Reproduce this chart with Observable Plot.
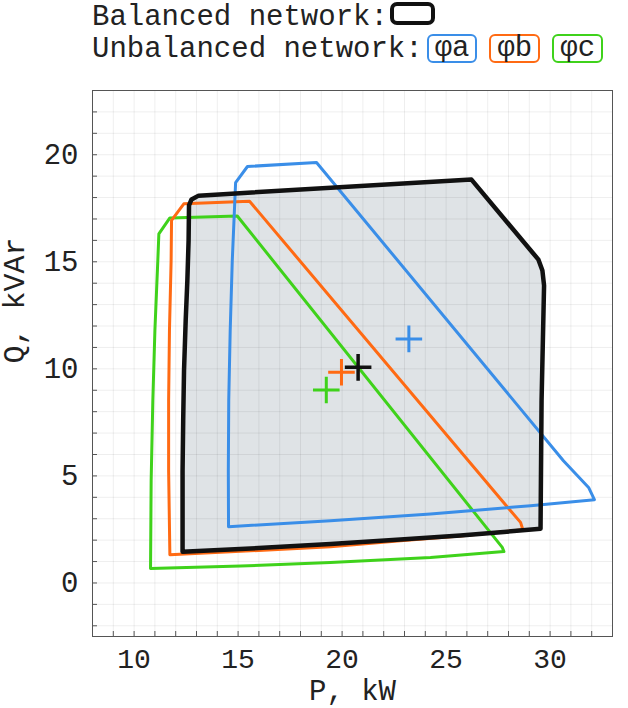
<!DOCTYPE html>
<html><head><meta charset="utf-8">
<script src="https://cdn.jsdelivr.net/npm/d3@7"></script>
<script src="https://cdn.jsdelivr.net/npm/@observablehq/plot@0.6"></script>
<style>
body{margin:0;background:#fff;font-family:"Liberation Mono","DejaVu Sans Mono",monospace;}
#legend{position:relative;width:628px;height:66px;color:#222;font-size:29px;}
.row{position:absolute;left:92px;display:flex;align-items:flex-start;white-space:pre;}
.row .t{line-height:29px;}
.sw{box-sizing:border-box;margin-top:-1px;}
</style></head><body>
<div id="legend"></div>
<div id="chart"></div>
<script>
// ---- data ----
const legendBalanced = "Balanced network:";
const legendUnbalanced = "Unbalanced network:";
const seriesNames = ["φa", "φb", "φc"];
const seriesColors = ["#3a8ee8", "#ff6a13", "#3fd21b"];
const balancedColor = "#111111";
const balancedFill = "#dfe3e6";

const xTicks = [10, 15, 20, 25, 30];
const yTicks = [0, 5, 10, 15, 20];
const xLabel = "P, kW";
const yLabel = "Q, kVAr";

// balanced network region (P, Q)
const balancedP = [12.33, 12.33, 12.36, 12.40, 12.48, 12.56, 12.62, 12.64, 12.76, 13.10, 26.22, 29.44, 29.63, 29.71, 29.59, 29.54, 27.62, 25.69, 22.81, 19.44, 15.60, 12.33];
const balancedQ = [1.46, 5.24, 7.57, 9.91, 12.25, 14.12, 15.99, 17.63, 17.91, 18.09, 18.84, 15.10, 14.59, 13.89, 8.51, 2.53, 2.37, 2.22, 2.03, 1.82, 1.61, 1.46];

// unbalanced phase a
const phaseAP = [14.54, 14.53, 14.55, 14.62, 14.72, 14.88, 15.45, 18.77, 30.64, 31.85, 32.13, 29.06, 24.25, 19.44, 14.54];
const phaseAQ = [2.63, 5.24, 8.51, 11.79, 15.06, 18.70, 19.45, 19.64, 5.71, 4.46, 3.89, 3.61, 3.22, 2.91, 2.63];
// unbalanced phase b
const phaseBP = [11.72, 11.66, 11.66, 11.70, 11.78, 11.80, 12.39, 15.55, 28.10, 28.58, 28.69, 25.69, 22.81, 19.44, 15.60, 11.72];
const phaseBQ = [1.32, 5.24, 8.51, 11.79, 15.06, 16.93, 17.71, 17.83, 3.37, 2.83, 2.49, 2.19, 1.97, 1.69, 1.50, 1.32];
// unbalanced phase c
const phaseCP = [10.79, 10.82, 10.90, 11.00, 11.14, 11.19, 11.72, 14.96, 27.70, 27.78, 24.25, 19.44, 15.12, 10.79];
const phaseCQ = [0.68, 4.78, 8.51, 11.79, 15.06, 16.30, 17.05, 17.14, 1.66, 1.47, 1.19, 0.96, 0.79, 0.68];

// operating points (crosses)
const centerNames = ["balanced", "φa", "φb", "φc"];
const centerP = [20.77, 23.21, 19.97, 19.24];
const centerQ = [10.07, 11.40, 9.84, 9.01];

// ---- legend ----
const legend = document.getElementById("legend");
function row(top, label) {
  const r = document.createElement("div");
  r.className = "row"; r.style.top = top + "px";
  const t = document.createElement("span"); t.className = "t"; t.textContent = label;
  r.appendChild(t); legend.appendChild(r); return r;
}
const r1 = row(3, legendBalanced);
const bsw = document.createElement("span");
bsw.className = "sw";
Object.assign(bsw.style, {width: "45px", height: "23px", border: `4px solid ${balancedColor}`, borderRadius: "7px", marginLeft: "2px", display: "inline-block"});
r1.appendChild(bsw);
const r2 = row(35, legendUnbalanced);
seriesNames.forEach((n, i) => {
  const s = document.createElement("span");
  s.className = "sw"; s.textContent = n;
  Object.assign(s.style, {height: "29px", border: `2px solid ${seriesColors[i]}`, borderRadius: "6px", padding: "0 6px", lineHeight: "25px", marginLeft: i === 0 ? "4px" : "12px", display: "inline-block"});
  r2.appendChild(s);
});

// ---- chart ----
const toRows = (P, Q) => P.map((p, i) => ({p, q: Q[i]}));
const balanced = toRows(balancedP, balancedQ);
const phases = [toRows(phaseAP, phaseAQ), toRows(phaseBP, phaseBQ), toRows(phaseCP, phaseCQ)];
const centers = centerNames.map((n, i) => ({n, p: centerP[i], q: centerQ[i], c: i === 0 ? balancedColor : seriesColors[i - 1]}));

const W = 628, H = 642;
const mT = 24, mB = 72, mL = 92, mR = 16;
const xDom = [8, 33], yDom = [-2.5, 23];
const xGrid = d3.range(Math.ceil(xDom[0]), Math.floor(xDom[1]) + 1);
const yGrid = d3.range(Math.ceil(yDom[0]), Math.floor(yDom[1]) + 1);
const plotW = W - mL - mR, plotH = H - mT - mB;

const chart = Plot.plot({
  width: W, height: H,
  marginTop: mT, marginBottom: mB, marginLeft: mL, marginRight: mR,
  x: {domain: xDom, label: null},
  y: {domain: yDom, label: null},
  style: {fontFamily: "'Liberation Mono', monospace", fontSize: "29px", color: "#222", background: "white"},
  marks: [
    Plot.line(balanced, {x: "p", y: "q", fill: balancedFill, stroke: "none"}),
    Plot.ruleX(xGrid, {stroke: "#000", strokeOpacity: 0.065}),
    Plot.ruleY(yGrid, {stroke: "#000", strokeOpacity: 0.065}),
    Plot.frame({stroke: "#555"}),
    Plot.tickX(xGrid, {x: d => d, stroke: "#555", insetTop: plotH - 5}),
    Plot.tickY(yGrid, {y: d => d, stroke: "#555", insetRight: plotW - 5}),
    Plot.axisX(xTicks, {tickSize: 0, tickPadding: 12, fontSize: 28, label: null}),
    Plot.axisY(yTicks, {tickSize: 0, tickPadding: 14, label: null}),
    Plot.line(phases[2], {x: "p", y: "q", stroke: seriesColors[2], strokeWidth: 3, strokeLinejoin: "round", strokeLinecap: "round"}),
    Plot.line(phases[1], {x: "p", y: "q", stroke: seriesColors[1], strokeWidth: 3, strokeLinejoin: "round", strokeLinecap: "round"}),
    Plot.line(phases[0], {x: "p", y: "q", stroke: seriesColors[0], strokeWidth: 3, strokeLinejoin: "round", strokeLinecap: "round"}),
    Plot.line(balanced, {x: "p", y: "q", stroke: balancedColor, strokeWidth: 4.5, strokeLinejoin: "round", strokeLinecap: "round"}),
    Plot.dot(centers.slice(1), {x: "p", y: "q", symbol: "plus", r: 8.6, stroke: "c", strokeWidth: 3}),
    Plot.dot(centers.slice(0, 1), {x: "p", y: "q", symbol: "plus", r: 8.6, stroke: "c", strokeWidth: 3.5}),
    Plot.text([xLabel], {text: d => d, frameAnchor: "bottom", dy: 63, fontSize: 29}),
    Plot.text([yLabel], {text: d => d, frameAnchor: "left", dx: -78, rotate: -90, fontSize: 30})
  ]
});
document.getElementById("chart").appendChild(chart);
</script>
</body></html>
